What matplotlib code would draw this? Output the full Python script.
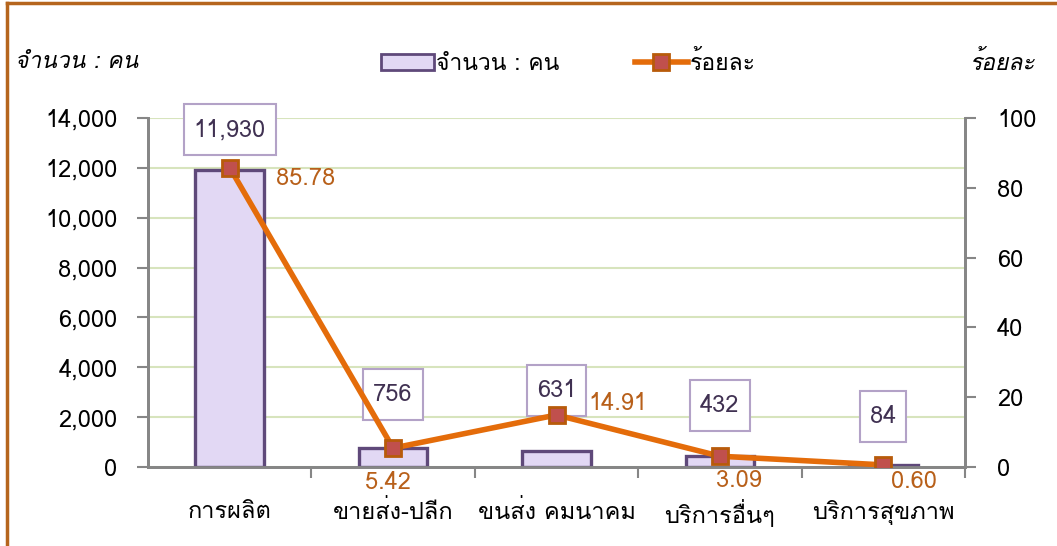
import matplotlib
matplotlib.use("Agg")
import matplotlib.pyplot as plt
from matplotlib import font_manager
from matplotlib.ft2font import FT2Font
from matplotlib.lines import Line2D
from matplotlib.patches import Patch
from matplotlib.path import Path

# data
categories = ["การผลิต", "ขายส่ง-ปลีก", "ขนส่ง คมนาคม", "บริการอื่นๆ", "บริการสุขภาพ"]
persons = [11930, 756, 631, 432, 84]
percent = [85.78, 5.42, 14.91, 3.09, 0.60]
left_ticks = [0, 2000, 4000, 6000, 8000, 10000, 12000, 14000]
right_ticks = [0, 20, 40, 60, 80, 100]

# offsets (pixels) of labels
bar_lab_off = [40, 54, 61, 51, 48]
pct_lab_off = [(76, -11), (-5, -34), (61, 11), (19, -24), (31, -17)]


def find_thai_font():
    for f in font_manager.fontManager.ttflist:
        try:
            ft = FT2Font(f.fname)
            if ft.get_char_index(ord("ก")) and ft.get_char_index(ord("1")):
                return f.name
        except Exception:
            pass
    return "DejaVu Sans"


def tall_box(x0, y0, width, height, mutation_size):
    # fixed-height box, small side padding (like the excel label boxes)
    padx = 0.42 * mutation_size
    half = 1.08 * mutation_size
    cy = y0 + height / 2
    verts = [(x0 - padx, cy - half), (x0 + width + padx, cy - half),
             (x0 + width + padx, cy + half), (x0 - padx, cy + half), (x0 - padx, cy - half)]
    return Path(verts, closed=True)


thai = find_thai_font()
plt.rcParams["font.family"] = [thai, "DejaVu Sans"]
px = 0.72  # pixels -> points at dpi 100

fig = plt.figure(figsize=(10.57, 5.46), dpi=100)
ax = fig.add_axes([0.140, 0.1447, 0.773, 0.6392])
ax2 = ax.twinx()

x = list(range(len(categories)))
ax.bar(x, persons, width=0.42, color="#e2d8f4", edgecolor="#5f497a", linewidth=2.4, zorder=3)
ax.set_xlim(-0.5, len(categories) - 0.5)
ax.set_ylim(0, 14000)
ax.set_yticks(left_ticks)
ax.set_yticklabels([f"{v:,}" for v in left_ticks])
ax.yaxis.grid(True, color="#d7e4bd", linewidth=1.5)
ax.set_axisbelow(True)

ax.set_xticks(x)
ax.set_xticklabels(categories)
ax.set_xticks([i + 0.5 for i in x], minor=True)
ax.tick_params(axis="x", which="major", length=0, pad=24, labelsize=17)
ax.tick_params(axis="x", which="minor", length=8, color="#868686", width=1.5)
ax.tick_params(axis="y", length=8, color="#868686", width=1.5, labelsize=17, pad=14)

for s in ["left", "bottom", "right"]:
    ax.spines[s].set_color("#868686")
    ax.spines[s].set_linewidth(2)
    ax2.spines[s].set_color("#868686")
    ax2.spines[s].set_linewidth(2)
ax.spines["top"].set_visible(False)
ax2.spines["top"].set_visible(False)

ax2.plot(x, percent, color="#e46c0a", linewidth=4, marker="s", markersize=12,
         markerfacecolor="#c0504d", markeredgecolor="#b85b0a", markeredgewidth=2, zorder=5)
ax2.set_ylim(0, 100)
ax2.set_yticks(right_ticks)
ax2.tick_params(axis="y", length=8, color="#868686", width=1.5, labelsize=17, pad=15)
ax2.set_zorder(ax.get_zorder() + 1)
ax2.patch.set_visible(False)

# labels for bars
for i, v in enumerate(persons):
    ax.annotate(f"{v:,}", (i, v), xytext=(0, bar_lab_off[i] * px), textcoords="offset points",
                ha="center", va="center", fontsize=17, color="#403152",
                bbox=dict(boxstyle=tall_box, fc="white", ec="#b3a2c7", lw=1.5), zorder=6)

# labels for percent
for i, v in enumerate(percent):
    dx, dy = pct_lab_off[i]
    ax2.annotate(f"{v:.2f}", (i, v), xytext=(dx * px, dy * px), textcoords="offset points",
                 ha="center", va="center", fontsize=17, color="#b8601a", zorder=7)

# axis titles
fig.text(15 / 1057, 1 - 63 / 546, "จำนวน : คน", fontsize=16.5, style="italic", ha="left", va="center")
fig.text(1035 / 1057, 1 - 63 / 546, "ร้อยละ", fontsize=16.5, style="italic", ha="right", va="center")

# legend
handles = [Patch(facecolor="#e2d8f4", edgecolor="#5f497a", linewidth=2),
           Line2D([0], [0], color="#e46c0a", linewidth=4, marker="s", markersize=12,
                  markerfacecolor="#c0504d", markeredgecolor="#b85b0a", markeredgewidth=2)]
fig.legend(handles, ["จำนวน : คน", "ร้อยละ"], loc="center", bbox_to_anchor=(0.538, 1 - 63 / 546),
           ncol=2, frameon=False, fontsize=16.5, handlelength=2.3, handletextpad=0.1, columnspacing=3.3)

# outer brown frame
fig.add_artist(Line2D([7 / 1057, 7 / 1057], [0, 1 - 3 / 546], color="#b5651d", linewidth=2.5))
fig.add_artist(Line2D([7 / 1057, 1], [1 - 3 / 546, 1 - 3 / 546], color="#b5651d", linewidth=2.5))

fig.savefig("out.png", dpi=100)
